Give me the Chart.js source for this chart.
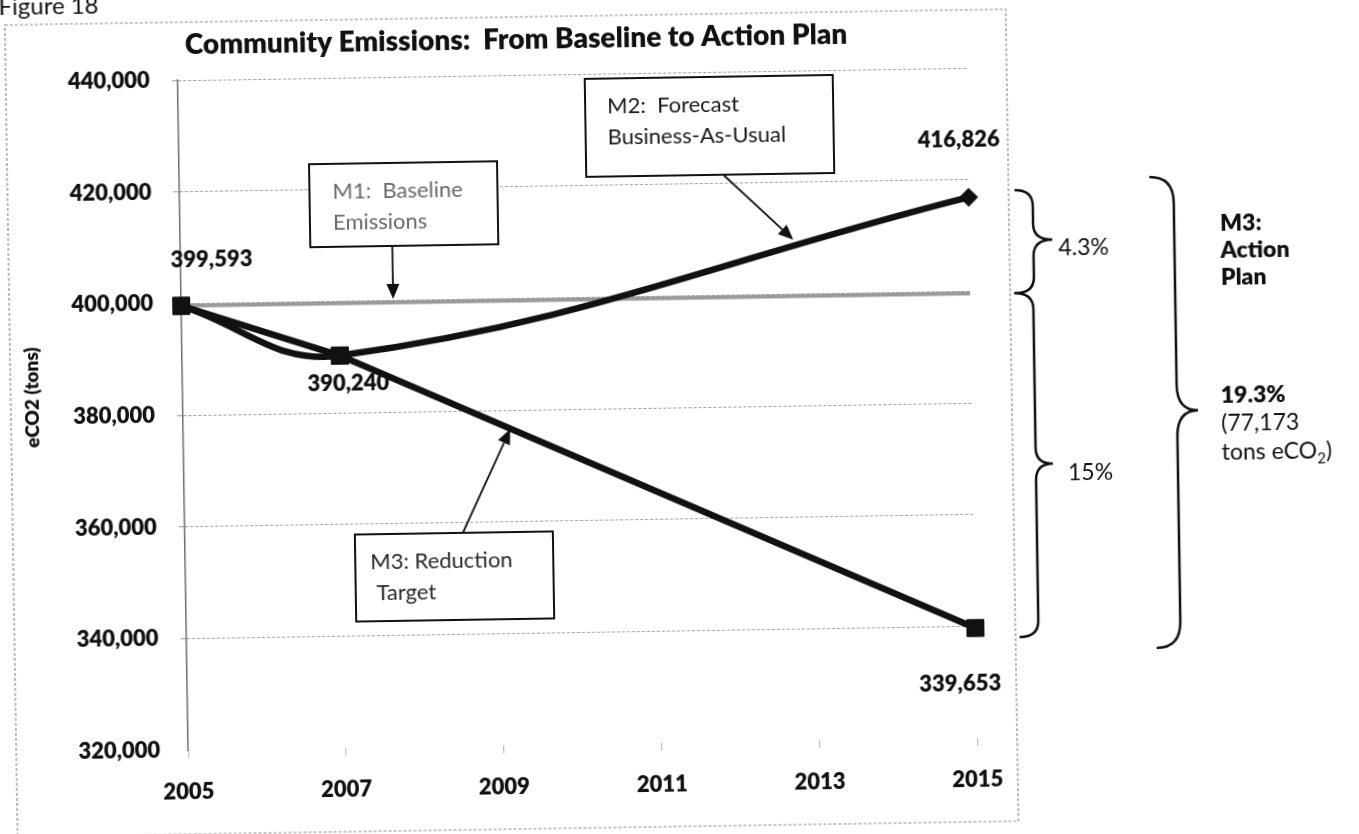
<!DOCTYPE html>
<html>
<head>
<meta charset="utf-8">
<title>Community Emissions: From Baseline to Action Plan</title>
<script src="https://cdn.jsdelivr.net/npm/chart.js@4.4.1/dist/chart.umd.min.js"></script>
<style>
  html, body { margin: 0; padding: 0; background: #fff; overflow: hidden; }
  body { width: 1359px; height: 834px; position: relative; }
  /* the printed figure sits slightly tilted on the page */
  #sheet { position: absolute; left: -20px; top: -20px; width: 1399px; height: 874px;
           transform-origin: 600px 435px; transform: rotate(-0.9deg); }
</style>
</head>
<body>
<div id="sheet"><canvas id="emissionsChart" width="1399" height="874"></canvas></div>
<script>
// axis ticks
const yearTicks = [2005, 2007, 2009, 2011, 2013, 2015];
const emissionTicks = [320000, 340000, 360000, 380000, 400000, 420000, 440000];

// tons eCO2
const baselineYears = [2005, 2015];
const baselineEmissions = [399593, 399593];
const scenarioYears = [2005, 2007, 2015];
const businessAsUsual = [399593, 390240, 416826];
const reductionTarget = [399593, 390240, 339653];

const PAD = 20; // canvas overhang so the tilted sheet has no bare corners
const FONT = 'Lato, "Open Sans", sans-serif';

const toPoints = (xs, ys) => xs.map((x, i) => ({ x: x, y: ys[i] }));

// value labels: dataset index, point index, offset from the marker
const valueLabels = [
  { ds: 1, pt: 0, dx: 31, dy: -46 },
  { ds: 1, pt: 1, dx: 8, dy: 28 },
  { ds: 0, pt: 2, dx: -9, dy: -57 },
  { ds: 1, pt: 2, dx: -16, dy: 56 }
];

// callout boxes with arrows (page coordinates)
const callouts = [
  { lines: ['M1:  Baseline', 'Emissions'], x: 313, y: 160, w: 188, h: 83, indent: 23,
    color: '#6a6a6a', from: [395, 243], to: [395, 296] },
  { lines: ['M2:  Forecast', 'Business-As-Usual'], x: 590, y: 79, w: 248, h: 98, indent: 22,
    color: '#1a1a1a', from: [727, 177], to: [796, 243] },
  { lines: ['M3: Reduction', ' Target'], x: 353, y: 531, w: 198, h: 87, indent: 15,
    color: '#2a2a2a', from: [461, 531], to: [510, 428] }
];

const braces = [
  { x: 1018, spine: 1036, tip: 1055, top: 197, mid: 247, bottom: 300, r: 16 },
  { x: 1016, spine: 1035, tip: 1052, top: 300, mid: 471, bottom: 644, r: 16 },
  { x: 1153, spine: 1177, tip: 1198, top: 186, mid: 420, bottom: 657, r: 26 }
];

const sideNotes = [
  { text: '4.3%', x: 1061, y: 263, bold: false },
  { text: '15%', x: 1067, y: 488, bold: false },
  { text: 'M3:', x: 1223, y: 241, bold: true },
  { text: 'Action', x: 1223, y: 268, bold: true },
  { text: 'Plan', x: 1223, y: 295, bold: true },
  { text: '19.3%', x: 1221, y: 413, bold: true },
  { text: '(77,173', x: 1221, y: 441, bold: false }
];

function drawArrow(ctx, from, to) {
  const ang = Math.atan2(to[1] - from[1], to[0] - from[0]);
  const len = 15, half = 6.5;
  const bx = to[0] - len * Math.cos(ang), by = to[1] - len * Math.sin(ang);
  ctx.beginPath();
  ctx.moveTo(from[0], from[1]);
  ctx.lineTo(bx, by);
  ctx.stroke();
  ctx.beginPath();
  ctx.moveTo(to[0], to[1]);
  ctx.lineTo(bx + half * Math.sin(ang), by - half * Math.cos(ang));
  ctx.lineTo(bx - half * Math.sin(ang), by + half * Math.cos(ang));
  ctx.closePath();
  ctx.fill();
}

function drawBrace(ctx, b) {
  ctx.beginPath();
  ctx.moveTo(b.x, b.top);
  ctx.quadraticCurveTo(b.spine, b.top, b.spine, b.top + b.r);
  ctx.lineTo(b.spine, b.mid - b.r);
  ctx.quadraticCurveTo(b.spine, b.mid, b.tip, b.mid);
  ctx.quadraticCurveTo(b.spine, b.mid, b.spine, b.mid + b.r);
  ctx.lineTo(b.spine, b.bottom - b.r);
  ctx.quadraticCurveTo(b.spine, b.bottom, b.x, b.bottom);
  ctx.stroke();
}

const figureNotes = {
  id: 'figureNotes',
  beforeDraw(chart) {
    const ctx = chart.ctx;
    ctx.save();
    ctx.fillStyle = '#fff';
    ctx.fillRect(0, 0, chart.width, chart.height);
    ctx.translate(PAD, PAD);
    // chart frame
    ctx.strokeStyle = '#8f8f8f';
    ctx.lineWidth = 1.2;
    ctx.setLineDash([3, 2]);
    ctx.strokeRect(11, 16, 1001, 812);
    ctx.restore();
  },
  afterDatasetsDraw(chart) {
    const ctx = chart.ctx;
    ctx.save();
    ctx.font = '800 22px ' + FONT;
    ctx.fillStyle = '#111';
    ctx.textAlign = 'center';
    ctx.textBaseline = 'middle';
    valueLabels.forEach(l => {
      const el = chart.getDatasetMeta(l.ds).data[l.pt];
      const v = chart.data.datasets[l.ds].data[l.pt].y;
      ctx.fillText(v.toLocaleString('en-US'), el.x + l.dx, el.y + l.dy);
    });
    ctx.restore();
  },
  afterDraw(chart) {
    const ctx = chart.ctx;
    ctx.save();
    ctx.translate(PAD, PAD);
    ctx.fillStyle = '#111';
    ctx.textBaseline = 'alphabetic';

    ctx.font = '24px ' + FONT;
    ctx.fillText('Figure 18', 5, 6);

    ctx.font = '800 28px ' + FONT;
    ctx.textAlign = 'center';
    ctx.fillText('Community Emissions:  From Baseline to Action Plan', 522, 48);

    // vertical axis title
    ctx.save();
    ctx.translate(33, 389);
    ctx.rotate(-Math.PI / 2);
    ctx.font = '800 19px ' + FONT;
    ctx.textBaseline = 'middle';
    ctx.fillText('eCO2 (tons)', 0, 0);
    ctx.restore();

    // callouts
    ctx.textAlign = 'left';
    callouts.forEach(c => {
      ctx.fillStyle = '#fff';
      ctx.fillRect(c.x, c.y, c.w, c.h);
      ctx.strokeStyle = '#111';
      ctx.lineWidth = 2;
      ctx.strokeRect(c.x, c.y, c.w, c.h);
      ctx.fillStyle = c.color;
      ctx.font = '22px ' + FONT;
      c.lines.forEach((t, i) => ctx.fillText(t, c.x + c.indent, c.y + 35 + i * 31));
      ctx.fillStyle = '#111';
      ctx.lineWidth = 1.8;
      drawArrow(ctx, c.from, c.to);
    });

    // braces and notes on the right
    ctx.strokeStyle = '#111';
    ctx.lineWidth = 2.5;
    braces.forEach(b => drawBrace(ctx, b));

    ctx.fillStyle = '#111';
    sideNotes.forEach(n => {
      ctx.font = (n.bold ? '800 ' : '') + '23px ' + FONT;
      ctx.fillText(n.text, n.x, n.y);
    });
    ctx.font = '23px ' + FONT;
    const head = 'tons eCO';
    ctx.fillText(head, 1221, 470);
    let x = 1221 + ctx.measureText(head).width;
    ctx.font = '15px ' + FONT;
    ctx.fillText('2', x, 475);
    x += ctx.measureText('2').width;
    ctx.font = '23px ' + FONT;
    ctx.fillText(')', x, 470);
    ctx.restore();
  }
};

Chart.defaults.font.family = FONT;
Chart.defaults.color = '#111';

const lineColor = '#111';

new Chart(document.getElementById('emissionsChart'), {
  type: 'line',
  data: {
    datasets: [
      {
        label: 'M2: Forecast Business-As-Usual',
        data: toPoints(scenarioYears, businessAsUsual),
        borderColor: lineColor,
        borderWidth: 6.5,
        tension: 0.4,
        pointStyle: ['rect', 'rect', 'rectRot'],
        pointRadius: [12, 12, 9],
        pointBackgroundColor: lineColor,
        pointBorderColor: lineColor,
        pointBorderWidth: 1,
        clip: false
      },
      {
        label: 'M3: Reduction Target',
        data: toPoints(scenarioYears, reductionTarget),
        borderColor: lineColor,
        borderWidth: 6.5,
        tension: 0,
        pointStyle: 'rect',
        pointRadius: 12,
        pointBackgroundColor: lineColor,
        pointBorderColor: lineColor,
        pointBorderWidth: 1,
        clip: false
      },
      {
        label: 'M1: Baseline Emissions',
        data: toPoints(baselineYears, baselineEmissions),
        borderColor: '#9a9a9a',
        borderWidth: 4,
        pointRadius: 0,
        clip: false
      }
    ]
  },
  options: {
    responsive: false,
    devicePixelRatio: 1,
    animation: false,
    layout: { padding: { top: 94, left: 0, right: 407, bottom: 50 } },
    plugins: {
      legend: { display: false },
      tooltip: { enabled: false }
    },
    scales: {
      x: {
        type: 'linear',
        min: 2005,
        max: 2015,
        afterBuildTicks: (scale) => { scale.ticks = yearTicks.map(v => ({ value: v })); },
        afterFit: (scale) => { scale.height = 60; },
        ticks: {
          font: { size: 22, weight: 800 },
          padding: 21,
          maxRotation: 0,
          callback: (v) => String(v)
        },
        grid: { drawOnChartArea: false, drawTicks: true, tickLength: 8, color: '#b5b5b5' },
        border: { display: false }
      },
      y: {
        min: 320000,
        max: 440000,
        afterBuildTicks: (scale) => { scale.ticks = emissionTicks.map(v => ({ value: v })); },
        afterFit: (scale) => { scale.width = 203; },
        ticks: {
          font: { size: 22, weight: 800 },
          padding: 22,
          callback: (v) => v.toLocaleString('en-US')
        },
        grid: {
          color: (c) => (c.tick && c.tick.value === 320000) ? 'rgba(0,0,0,0)' : '#9c9c9c',
          tickLength: 6,
          lineWidth: 1
        },
        border: { display: true, color: '#6e6e6e', width: 1.5, dash: [3, 2] }
      }
    }
  },
  plugins: [figureNotes]
});
</script>
</body>
</html>
